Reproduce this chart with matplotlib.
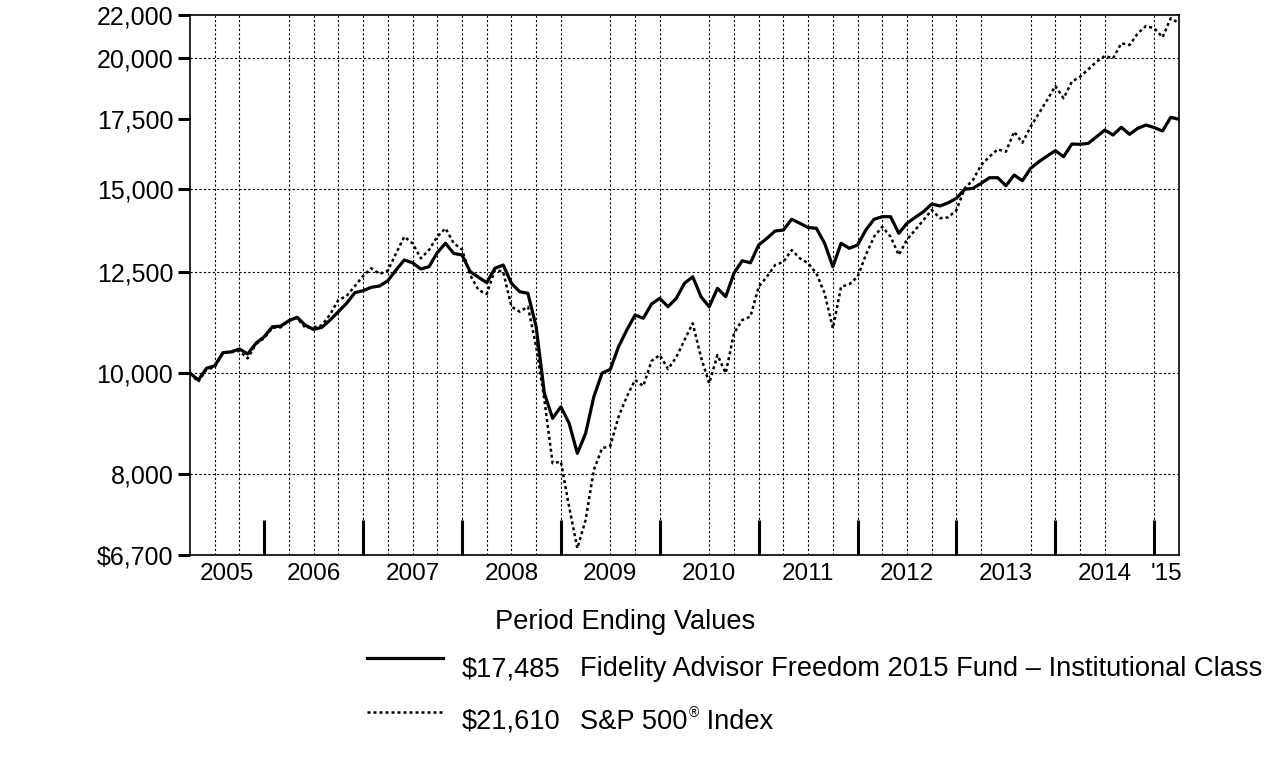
import numpy as np
import matplotlib
matplotlib.use("Agg")
import matplotlib.pyplot as plt
from matplotlib.lines import Line2D
from matplotlib.ticker import FixedLocator, FixedFormatter, NullLocator, NullFormatter

W, H = 1277, 763

# month index 0 = Mar 2005 ... 120 = Mar 2015
months = np.arange(121)

fund = [
    10000, 9850, 10106, 10164, 10460, 10480, 10545, 10430, 10680, 10834,
    11075, 11090, 11223, 11308, 11110, 11010, 11060, 11240, 11448, 11662,
    11937, 11990, 12080, 12114, 12255, 12550, 12828, 12750, 12576, 12640,
    13036, 13309, 13015, 12970, 12502, 12350, 12203, 12596, 12687, 12187,
    11963, 11921, 11075, 9566, 9053, 9287, 8954, 8381, 8756, 9494,
    10000, 10084, 10600, 10995, 11364, 11283, 11643, 11790, 11574, 11790,
    12187, 12364, 11832, 11574, 12053, 11832, 12458, 12808, 12750, 13258,
    13455, 13674, 13703, 14031, 13908, 13779, 13755, 13309, 12640, 13309,
    13163, 13258, 13703, 14031, 14111, 14111, 13604, 13908, 14092, 14268,
    14511, 14447, 14550, 14694, 14990, 15021, 15188, 15376, 15376, 15108,
    15467, 15275, 15698, 15927, 16129, 16318, 16105, 16560, 16548, 16585,
    16828, 17078, 16891, 17181, 16917, 17143, 17267, 17170, 17041, 17563,
    17485,
]

sp500 = [
    10000, 9810, 10080, 10130, 10450, 10470, 10500, 10330, 10660, 10800,
    11050, 11060, 11230, 11290, 11050, 11060, 11110, 11380, 11745, 11850,
    12113, 12384, 12596, 12440, 12530, 13015, 13504, 13309, 12876, 13113,
    13504, 13755, 13309, 13130, 12411, 12007, 11903, 12550, 12500, 11574,
    11448, 11574, 10600, 9425, 8199, 8230, 7452, 6800, 7237, 8079,
    8474, 8520, 9085, 9494, 9850, 9719, 10270, 10407, 10090, 10355,
    10756, 11159, 10355, 9778, 10407, 10000, 10916, 11240, 11325, 12095,
    12364, 12687, 12775, 13113, 12876, 12737, 12458, 11920, 11037, 12095,
    12160, 12364, 12970, 13504, 13803, 13504, 12970, 13420, 13705, 14010,
    14320, 14065, 14090, 14320, 15020, 15298, 15812, 16105, 16368, 16282,
    17015, 16608, 17203, 17718, 18245, 18816, 18313, 18996, 19206, 19522,
    19851, 20100, 20000, 20671, 20594, 21130, 21473, 21364, 20946, 21841,
    21610,
]

yticks = [6700, 8000, 10000, 12500, 15000, 17500, 20000, 22000]
ytick_labels = ["$6,700", "8,000", "10,000", "12,500", "15,000", "17,500", "20,000", "22,000"]
ygrid = [8000, 10000, 12500, 15000, 20000]

year_labels = ["2005", "2006", "2007", "2008", "2009", "2010", "2011", "2012", "2013", "2014", "'15"]
year_ends = [9 + 12 * k for k in range(10)]
missing_grid = [9, 48, 60, 99, 114]

fund_label = "Fidelity Advisor Freedom 2015 Fund \u2013 Institutional Class"
fund_end = "$17,485"
sp_label = "S&P 500"
sp_end = "$21,610"
legend_title = "Period Ending Values"

plt.rcParams["font.family"] = ["Liberation Sans", "DejaVu Sans"]
LEG = 19.6

fig = plt.figure(figsize=(W / 100, H / 100), dpi=100)
ax = fig.add_axes([190 / W, 1 - 555 / H, (1179 - 190) / W, (555 - 15) / H])

# grid
for v in ygrid:
    ax.axhline(v, color="black", lw=0.8, ls=(0, (2, 2)), zorder=1)
for m in range(3, 120, 3):
    if m not in missing_grid:
        ax.axvline(m, color="black", lw=0.8, ls=(0, (2, 2)), zorder=1)

ax.plot(months, sp500, color="black", lw=1.8, ls=(0, (1.2, 1.2)), zorder=3)
ax.plot(months, fund, color="black", lw=2.3, solid_joinstyle="round", zorder=4)

ax.set_yscale("log")
ax.set_ylim(6700, 22000)
ax.set_xlim(0, 120)

ax.yaxis.set_major_locator(FixedLocator(yticks))
ax.yaxis.set_major_formatter(FixedFormatter(ytick_labels))
ax.yaxis.set_minor_locator(NullLocator())
ax.yaxis.set_minor_formatter(NullFormatter())
ax.tick_params(axis="y", which="major", direction="out", length=8.5, width=2.2,
               labelsize=18, pad=3.5)

edges = [0] + year_ends + [120]
mids = [(a + b) / 2 for a, b in zip(edges[:-1], edges[1:])]
ax.xaxis.set_major_locator(FixedLocator(year_ends))
ax.xaxis.set_major_formatter(NullFormatter())
ax.xaxis.set_minor_locator(FixedLocator(mids))
ax.xaxis.set_minor_formatter(FixedFormatter(year_labels))
ax.tick_params(axis="x", which="major", direction="in", length=25, width=2.2)
ax.tick_params(axis="x", which="minor", length=0, labelsize=17.5, pad=6)

for s in ax.spines.values():
    s.set_linewidth(1.2)

def fx(px):
    return px / W

def fy(py):
    return 1 - py / H

fig.text(fx(495), fy(629), legend_title, fontsize=LEG, va="baseline")

fig.add_artist(Line2D([fx(367), fx(443)], [fy(658), fy(658)], color="black", lw=2.3))
fig.add_artist(Line2D([fx(367), fx(443)], [fy(712), fy(712)], color="black", lw=1.8,
                      ls=(0, (1.2, 1.2))))

fig.text(fx(462), fy(676), fund_end, fontsize=LEG, va="baseline")
fig.text(fx(580), fy(676), fund_label, fontsize=LEG, va="baseline")
fig.text(fx(462), fy(729), sp_end, fontsize=LEG, va="baseline")
t = fig.text(fx(580), fy(729), sp_label, fontsize=LEG, va="baseline")

renderer = fig.canvas.get_renderer()
bb = t.get_window_extent(renderer)
reg = fig.text(bb.x1 / W + 1 / W, fy(717), "\u00ae", fontsize=10, va="baseline")
bb2 = reg.get_window_extent(renderer)
fig.text(bb2.x1 / W, fy(729), " Index", fontsize=LEG, va="baseline")

fig.savefig("out.png", dpi=100)
